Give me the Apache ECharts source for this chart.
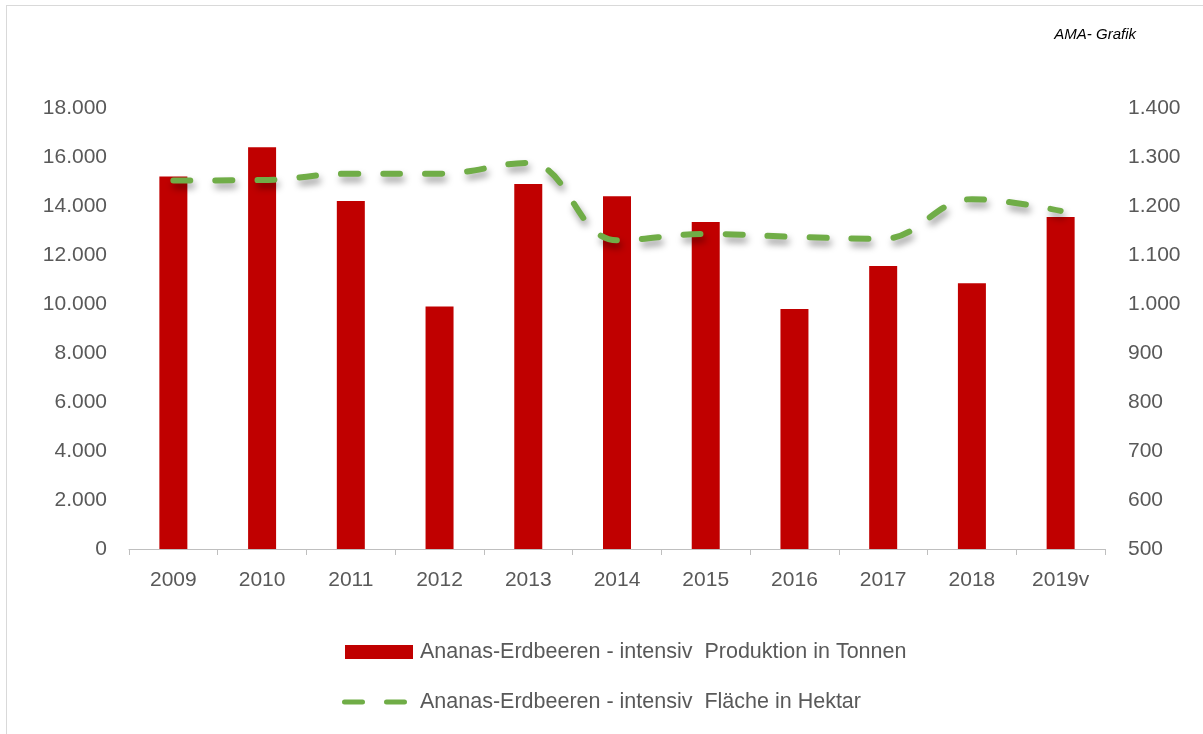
<!DOCTYPE html>
<html>
<head>
<meta charset="utf-8">
<script src="https://cdn.jsdelivr.net/npm/echarts@6/dist/echarts.min.js"></script>
<style>
html,body{margin:0;padding:0;background:#fff;}
#frame{position:absolute;left:6px;top:5px;width:1220px;height:760px;border:1px solid #d9d9d9;box-sizing:border-box;}
#chart{position:absolute;left:0;top:0;width:1203px;height:734px;}
</style>
</head>
<body>
<div id="frame"></div>
<div id="chart"></div>
<script>
const categories = ['2009','2010','2011','2012','2013','2014','2015','2016','2017','2018','2019v'];
const production = [15200, 16400, 14200, 9900, 14900, 14400, 13350, 9800, 11550, 10850, 13550];
const area = [1252, 1253, 1266, 1266, 1288, 1130, 1143, 1137, 1133, 1214, 1190];
const nameProd = 'Ananas-Erdbeeren - intensiv  Produktion in Tonnen';
const nameArea = 'Ananas-Erdbeeren - intensiv  Fläche in Hektar';

function fmt(v){ return String(v).replace(/\B(?=(\d{3})+(?!\d))/g, '.'); }

const chart = echarts.init(document.getElementById('chart'));
const font = 'Liberation Sans';
const dashIcon = 'path://M2.5,0 h18 a2.5,2.5 0 0 1 0,5 h-18 a2.5,2.5 0 0 1 0,-5 z M44.5,0 h18 a2.5,2.5 0 0 1 0,5 h-18 a2.5,2.5 0 0 1 0,-5 z';
chart.setOption({
  animation: false,
  textStyle: {fontFamily: font},
  title: {
    text: 'AMA- Grafik', right: 62, top: 22,
    textStyle: {fontSize: 15, fontStyle: 'italic', fontWeight: 'normal', color: '#000', fontFamily: font}
  },
  grid: {left: 129, right: 98, top: 108, bottom: 185, containLabel: false},
  legend: [
    {
      left: 345, top: 641, padding: 0,
      itemWidth: 68, itemHeight: 14,
      textStyle: {fontSize: 21.5, color: '#595959', fontFamily: font, padding: [0,0,0,2]},
      data: [{name: nameProd, icon: 'rect'}]
    },
    {
      left: 342, top: 691, padding: 0,
      itemWidth: 65, itemHeight: 5,
      textStyle: {fontSize: 21.5, color: '#595959', fontFamily: font, padding: [0,0,0,8]},
      data: [{name: nameArea, icon: dashIcon, itemStyle: {color: '#70AD47'}}]
    }
  ],
  xAxis: {
    type: 'category', data: categories,
    axisLine: {lineStyle: {color: '#bfbfbf', width: 1}},
    axisTick: {show: true, length: 6, lineStyle: {color: '#bfbfbf'}},
    axisLabel: {fontSize: 21, color: '#595959', margin: 21}
  },
  yAxis: [
    {type: 'value', min: 0, max: 18000, interval: 2000,
     splitLine: {show: false}, axisLine: {show: false}, axisTick: {show: false},
     axisLabel: {fontSize: 21, color: '#595959', margin: 22, formatter: fmt}},
    {type: 'value', min: 500, max: 1400, interval: 100,
     splitLine: {show: false}, axisLine: {show: false}, axisTick: {show: false},
     axisLabel: {fontSize: 21, color: '#595959', margin: 23, formatter: fmt}}
  ],
  series: [
    {name: nameProd, type: 'bar', data: production, barWidth: 28,
     itemStyle: {color: '#C00000'}},
    {name: nameArea, type: 'line', yAxisIndex: 1, data: area, smooth: 0.4,
     symbol: 'none', showSymbol: false,
     lineStyle: {color: '#70AD47', width: 6, type: [17, 25], cap: 'round',
       shadowColor: 'rgba(0,0,0,0.4)', shadowBlur: 7, shadowOffsetX: 2, shadowOffsetY: 5},
     itemStyle: {color: '#70AD47'}}
  ]
});
</script>
</body>
</html>
